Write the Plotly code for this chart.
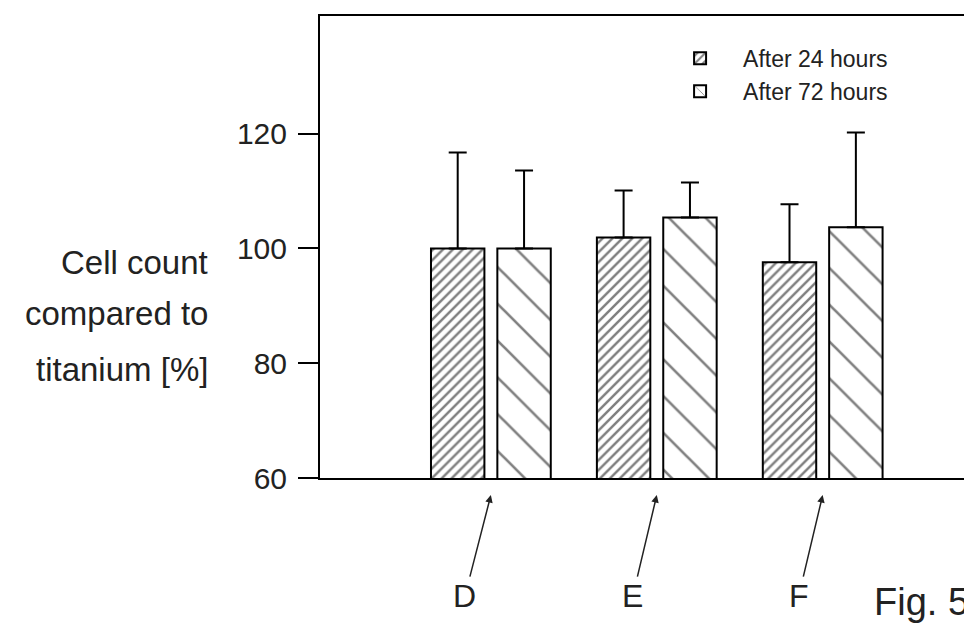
import plotly.graph_objects as go

categories = ["D", "E", "F"]
series_names = ["After 24 hours", "After 72 hours"]
values_24h = [100.0, 101.9, 97.6]
errors_24h = [16.7, 8.2, 10.1]
values_72h = [100.0, 105.4, 103.7]
errors_72h = [13.6, 6.1, 16.5]
y_tick_values = [60, 80, 100, 120]
y_title_lines = ["Cell count", "compared to", "titanium [%]"]
figure_label = "Fig. 5"

ARIAL = "Liberation Sans, Arial, sans-serif"

fig = go.Figure()
fig.add_trace(go.Bar(
    name=series_names[0], x=categories, y=values_24h,
    marker=dict(color="white", line=dict(color="black", width=2),
                pattern=dict(shape="/", size=7, solidity=0.35, fgcolor="black", fillmode="overlay")),
    error_y=dict(type="data", symmetric=False, array=errors_24h, arrayminus=[0, 0, 0],
                 color="black", thickness=2, width=9),
))
fig.add_trace(go.Bar(
    name=series_names[1], x=categories, y=values_72h,
    marker=dict(color="white", line=dict(color="black", width=2),
                pattern=dict(shape="\\", size=26, solidity=0.1, fgcolor="black", fillmode="overlay")),
    error_y=dict(type="data", symmetric=False, array=errors_72h, arrayminus=[0, 0, 0],
                 color="black", thickness=2, width=9),
))

annotations = []
title_y = [0.4665, 0.356, 0.2354]
for line, yy in zip(y_title_lines, title_y):
    annotations.append(dict(text=line, xref="paper", yref="paper", x=-0.168, y=yy,
                            xanchor="right", yanchor="middle", showarrow=False,
                            font=dict(family=ARIAL, size=33, color="#222")))
offsets = [-26, -24, -24]
for cat, dx in zip(categories, offsets):
    annotations.append(dict(text=cat, x=cat, xref="x", yref="paper", y=-0.037,
                            showarrow=True, ax=dx, ay=101, arrowhead=2, arrowsize=1,
                            arrowwidth=1.5, arrowcolor="#222", standoff=0,
                            font=dict(family=ARIAL, size=32, color="#222")))
annotations.append(dict(text=figure_label, xref="paper", yref="paper", x=0.998, y=-0.268,
                        xanchor="right", yanchor="middle", showarrow=False,
                        font=dict(family=ARIAL, size=38, color="#222")))

fig.update_layout(
    width=972, height=628,
    margin=dict(l=312, r=6, t=7, b=158),
    paper_bgcolor="white", plot_bgcolor="white",
    barmode="group", bargap=0.2, bargroupgap=0.195,
    showlegend=True,
    legend=dict(x=0.517, y=0.955, xanchor="left", yanchor="top",
                font=dict(family=ARIAL, size=23, color="#222"),
                itemwidth=76, tracegroupgap=0, bgcolor="rgba(0,0,0,0)"),
    annotations=annotations,
    xaxis=dict(range=[-1.03, 2.9], showticklabels=False, ticks="",
               showline=True, linecolor="black", linewidth=2, mirror=True,
               showgrid=False, zeroline=False),
    yaxis=dict(range=[60, 140.5], tickvals=y_tick_values, ticks="outside", ticklen=20,
               tickwidth=2, tickcolor="black", ticklabelstandoff=5,
               tickfont=dict(family=ARIAL, size=30, color="#222"),
               showline=True, linecolor="black", linewidth=2, mirror=True,
               showgrid=False, zeroline=False),
)

fig.write_html("out.html")
